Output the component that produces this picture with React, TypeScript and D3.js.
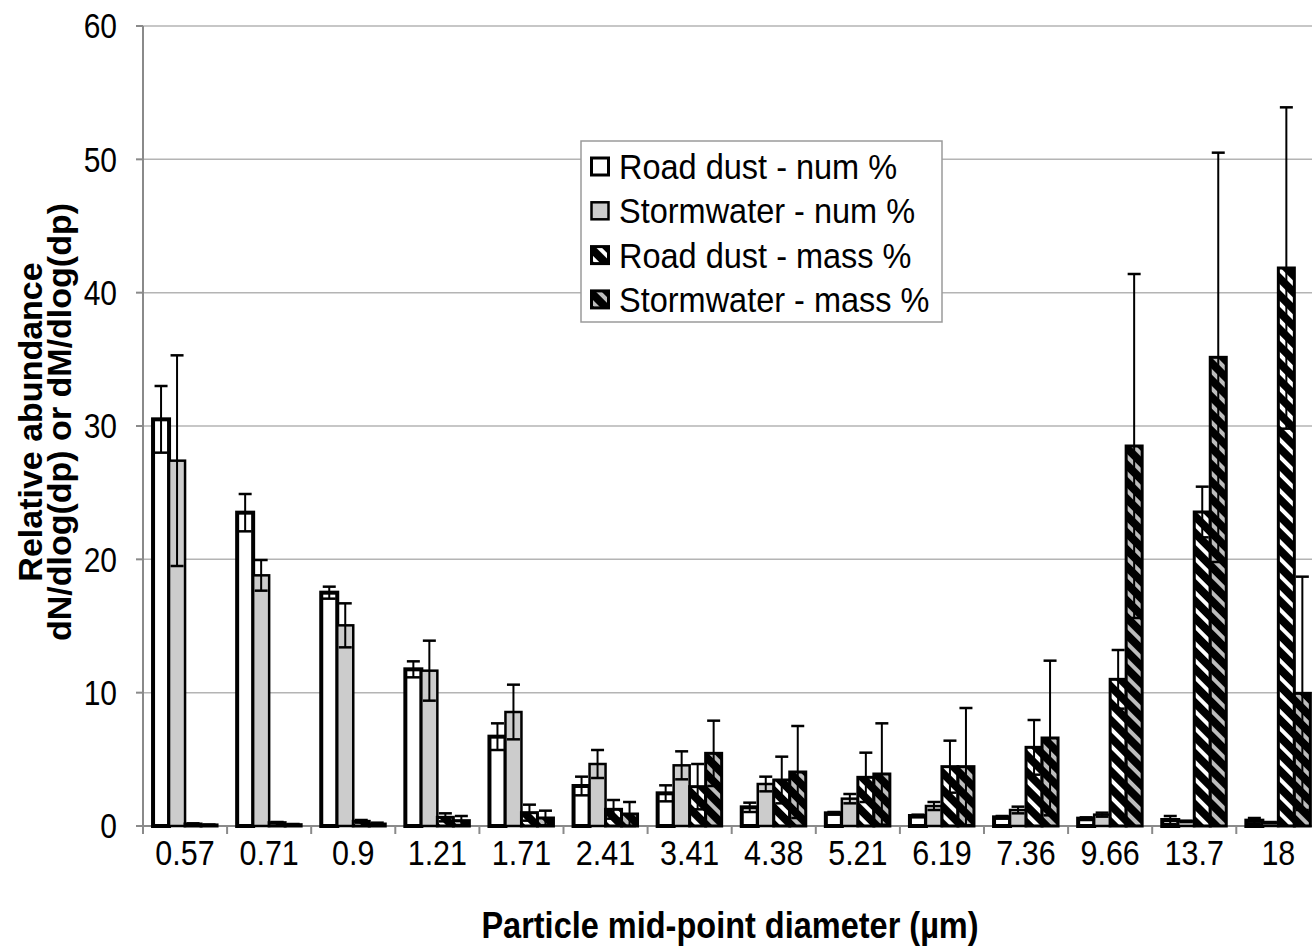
import { useEffect, useRef } from "react";
import * as d3 from "d3";

// Particle mid-point diameters (µm)
const categories = ["0.57", "0.71", "0.9", "1.21", "1.71", "2.41", "3.41", "4.38", "5.21", "6.19", "7.36", "9.66", "13.7", "18"];

// Road dust - num %
const roadDustNum = [30.5, 23.5, 17.5, 11.75, 6.7, 3.0, 2.45, 1.4, 0.95, 0.75, 0.65, 0.55, 0.45, 0.4];
const roadDustNumErr = [2.5, 1.4, 0.45, 0.6, 1.0, 0.7, 0.6, 0.35, 0.1, 0.1, 0.1, 0.1, 0.3, 0.2];

// Stormwater - num %
const stormNum = [27.4, 18.8, 15.05, 11.65, 8.55, 4.65, 4.55, 3.15, 2.05, 1.5, 1.2, 0.85, 0.35, 0.25];
const stormNumErr = [7.9, 1.15, 1.65, 2.25, 2.05, 1.05, 1.05, 0.55, 0.35, 0.3, 0.25, 0.15, 0.05, 0.05];

// Road dust - mass %
const roadDustMass = [0.15, 0.25, 0.35, 0.65, 1.0, 1.25, 2.95, 3.45, 3.65, 4.45, 5.9, 11.0, 23.55, 41.85];
const roadDustMassErr = [0.05, 0.05, 0.1, 0.3, 0.6, 0.7, 1.7, 1.75, 1.85, 1.95, 2.05, 2.2, 1.9, 12.05];

// Stormwater - mass %
const stormMass = [0.08, 0.1, 0.15, 0.4, 0.6, 0.9, 5.45, 4.05, 3.9, 4.45, 6.6, 28.5, 35.15, 9.95];
const stormMassErr = [0.03, 0.05, 0.1, 0.35, 0.55, 0.9, 2.45, 3.45, 3.8, 4.4, 5.8, 12.9, 15.35, 8.75];

const seriesNames = ["Road dust - num %", "Stormwater - num %", "Road dust - mass %", "Stormwater - mass %"];
const yTicks = [0, 10, 20, 30, 40, 50, 60];

// Chart geometry
const width = 1312;
const height = 946;
const plot = { left: 143, top: 26, bottom: 826, step: 84.1 };
const font = "'Liberation Sans', Arial, sans-serif";
// the original picture is a bit stretched vertically, so the text is too
const sy = 1.15;

const drawChart = (node) => {
    const svg = d3.select(node);
    svg.selectAll("*").remove();

    const series = [
        { name: seriesNames[0], values: roadDustNum, errs: roadDustNumErr, fill: "#ffffff", stroke: 4 },
        { name: seriesNames[1], values: stormNum, errs: stormNumErr, fill: "#cccccc", stroke: 2.5 },
        { name: seriesNames[2], values: roadDustMass, errs: roadDustMassErr, fill: "url(#hatch-white)", stroke: 3 },
        { name: seriesNames[3], values: stormMass, errs: stormMassErr, fill: "url(#hatch-grey)", stroke: 3 },
    ];

    // scales
    const x = d3.scaleBand()
        .domain(categories)
        .range([plot.left, plot.left + plot.step * categories.length])
        .paddingInner(0.239)
        .paddingOuter(0.1195);

    const xInner = d3.scaleBand()
        .domain(seriesNames)
        .range([0, x.bandwidth()]);

    const y = d3.scaleLinear()
        .domain([0, 60])
        .range([plot.bottom, plot.top]);

    // hatch patterns (black ground with light diagonal stripes)
    const defs = svg.append("defs");
    [["hatch-white", "#ffffff"], ["hatch-grey", "#bdbdbd"]].forEach(([id, col]) => {
        const p = defs.append("pattern")
            .attr("id", id)
            .attr("patternUnits", "userSpaceOnUse")
            .attr("width", 12)
            .attr("height", 12)
            .attr("patternTransform", "rotate(45)");
        p.append("rect").attr("width", 12).attr("height", 12).attr("fill", "#000");
        p.append("rect").attr("y", 4).attr("width", 12).attr("height", 4).attr("fill", col);
    });

    // gridlines
    svg.append("g")
        .selectAll("line")
        .data(yTicks.filter(d => d > 0))
        .join("line")
            .attr("x1", plot.left)
            .attr("x2", width)
            .attr("y1", d => y(d))
            .attr("y2", d => y(d))
            .attr("stroke", "#b4b4b4")
            .attr("stroke-width", 1.5);

    // y axis
    const yAxis = svg.append("g").attr("stroke", "#8a8a8a").attr("stroke-width", 2);
    yAxis.append("line")
        .attr("x1", plot.left).attr("x2", plot.left)
        .attr("y1", y(60)).attr("y2", y(0));
    yAxis.selectAll(".tick")
        .data(yTicks)
        .join("line")
            .attr("x1", plot.left - 7).attr("x2", plot.left)
            .attr("y1", d => y(d)).attr("y2", d => y(d));

    svg.append("g")
        .attr("font-family", font)
        .attr("font-size", 30)
        .attr("text-anchor", "end")
        .selectAll("text")
        .data(yTicks)
        .join("text")
            .attr("transform", d => `translate(117,${y(d)}) scale(1,${sy})`)
            .attr("dy", "0.36em")
            .text(d => d);

    // x axis
    const xAxis = svg.append("g").attr("stroke", "#8a8a8a").attr("stroke-width", 2);
    xAxis.append("line")
        .attr("x1", plot.left).attr("x2", width)
        .attr("y1", y(0)).attr("y2", y(0));
    xAxis.selectAll(".tick")
        .data(d3.range(categories.length + 1))
        .join("line")
            .attr("x1", i => plot.left + i * plot.step)
            .attr("x2", i => plot.left + i * plot.step)
            .attr("y1", y(0)).attr("y2", y(0) + 8);

    svg.append("g")
        .attr("font-family", font)
        .attr("font-size", 30.5)
        .attr("text-anchor", "middle")
        .selectAll("text")
        .data(categories)
        .join("text")
            .attr("transform", d => `translate(${x(d) + x.bandwidth() / 2},865) scale(1,${sy})`)
            .text(d => d);

    // bars
    series.forEach((s) => {
        svg.append("g")
            .selectAll("rect")
            .data(s.values)
            .join("rect")
                .attr("x", (d, i) => x(categories[i]) + xInner(s.name))
                .attr("y", d => y(d))
                .attr("width", xInner.bandwidth())
                .attr("height", d => y(0) - y(d))
                .attr("fill", s.fill)
                .attr("stroke", "#000")
                .attr("stroke-width", s.stroke);
    });

    // error bars (both directions, with caps)
    series.forEach((s) => {
        const g = svg.append("g").attr("stroke", "#000");
        s.values.forEach((v, i) => {
            const cx = x(categories[i]) + xInner(s.name) + xInner.bandwidth() / 2;
            const lo = y(Math.max(0, v - s.errs[i]));
            const hi = y(v + s.errs[i]);
            g.append("line").attr("x1", cx).attr("x2", cx).attr("y1", lo).attr("y2", hi).attr("stroke-width", 2);
            g.append("line").attr("x1", cx - 6.5).attr("x2", cx + 6.5).attr("y1", hi).attr("y2", hi).attr("stroke-width", 2.5);
            g.append("line").attr("x1", cx - 6.5).attr("x2", cx + 6.5).attr("y1", lo).attr("y2", lo).attr("stroke-width", 2.5);
        });
    });

    // legend
    const legend = svg.append("g").attr("transform", "translate(581,141)");
    legend.append("rect")
        .attr("width", 361)
        .attr("height", 181)
        .attr("fill", "#fff")
        .attr("stroke", "#9a9a9a")
        .attr("stroke-width", 1.5);
    const rows = legend.selectAll("g")
        .data(series)
        .join("g")
            .attr("transform", (d, i) => `translate(0,${25.5 + i * 44.3})`);
    rows.append("rect")
        .attr("x", 10.5)
        .attr("y", -8.5)
        .attr("width", 17)
        .attr("height", 17)
        .attr("fill", d => d.fill)
        .attr("stroke", "#000")
        .attr("stroke-width", d => Math.min(d.stroke, 3));
    rows.append("text")
        .attr("transform", `translate(38,0) scale(1,1.08)`)
        .attr("dy", "0.36em")
        .attr("font-family", font)
        .attr("font-size", 32.5)
        .text(d => d.name);

    // axis titles
    svg.append("text")
        .attr("transform", `translate(730,938) scale(1,${sy})`)
        .attr("text-anchor", "middle")
        .attr("font-family", font)
        .attr("font-size", 32.5)
        .attr("font-weight", "bold")
        .text("Particle mid-point diameter (µm)");

    const yTitle = svg.append("g")
        .attr("transform", "translate(0,422) rotate(-90)")
        .attr("text-anchor", "middle")
        .attr("font-family", font)
        .attr("font-size", 34)
        .attr("font-weight", "bold");
    yTitle.append("text").attr("x", 0).attr("y", 42).text("Relative abundance");
    yTitle.append("text").attr("x", 0).attr("y", 71).text("dN/dlog(dp) or dM/dlog(dp)");
};

export default function App() {
    const ref = useRef(null);

    useEffect(() => {
        drawChart(ref.current);
    }, []);

    return (
        <svg
            ref={ref}
            width={width}
            height={height}
            style={{ position: "absolute", left: 0, top: 0, background: "#fff" }}
        />
    );
}
